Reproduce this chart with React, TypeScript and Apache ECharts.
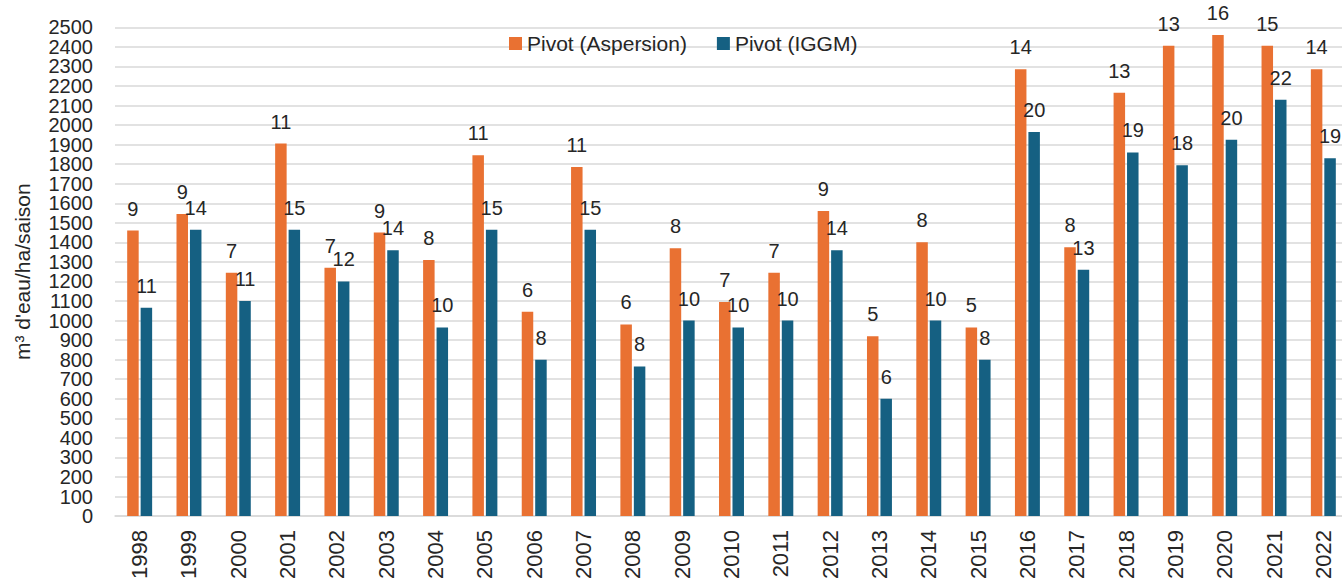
import React, { useEffect, useRef } from "react";
import * as echarts from "echarts";

const years = ["1998","1999","2000","2001","2002","2003","2004","2005","2006","2007","2008","2009","2010","2011","2012","2013","2014","2015","2016","2017","2018","2019","2020","2021","2022"];
const aspersion = [1460,1545,1245,1905,1270,1450,1310,1845,1045,1785,980,1370,1095,1245,1560,920,1400,965,2285,1375,2165,2405,2460,2405,2285];
const iggm = [1065,1465,1100,1465,1200,1360,965,1465,800,1465,765,1000,965,1000,1360,600,1000,800,1965,1260,1860,1795,1925,2130,1830];
const aspersionCounts = [9,9,7,11,7,9,8,11,6,11,6,8,7,7,9,5,8,5,14,8,13,13,16,15,14];
const iggmCounts = [11,14,11,15,12,14,10,15,8,15,8,10,10,10,14,6,10,8,20,13,19,18,20,22,19];
const seriesNames = ["Pivot (Aspersion)", "Pivot (IGGM)"];
const yAxisTitle = "m³ d'eau/ha/saison";
const Y_MIN = 0;
const Y_MAX = 2500;
const Y_STEP = 100;

const FONT = "'Liberation Sans', Arial, sans-serif";
const TEXT = "#262626";

export default function App() {
  const ref = useRef<HTMLDivElement>(null);
  useEffect(() => {
    if (!ref.current) return;
    const chart = echarts.init(ref.current, undefined, { renderer: "svg" });
    const labelCfg = (counts: number[]) => ({
      show: true,
      position: "top" as const,
      distance: 12,
      color: TEXT,
      fontSize: 20,
      fontFamily: FONT,
      formatter: (p: any) => String(counts[p.dataIndex]),
    });
    const yLabel = (even: boolean) => ({
      fontSize: 20,
      color: TEXT,
      margin: 22,
      fontFamily: FONT,
      showMinLabel: true,
      showMaxLabel: true,
      formatter: (v: number) => {
        const isEven = Math.round(v / Y_STEP) % 2 === 0;
        return isEven === even ? String(v) : "";
      },
    });
    chart.setOption({
      animation: false,
      textStyle: { fontFamily: FONT },
      legend: {
        left: 504,
        top: 28,
        itemWidth: 13,
        itemHeight: 13,
        itemGap: 30,
        icon: "rect",
        textStyle: { fontSize: 21, color: TEXT, fontFamily: FONT },
        data: seriesNames,
      },
      grid: { left: 115, top: 27.3, bottom: 63.3, right: 12, containLabel: false },
      xAxis: {
        type: "category",
        data: years,
        axisLine: { lineStyle: { color: "#d9d9d9", width: 1.5 } },
        axisTick: { show: false },
        axisLabel: {
          rotate: 90,
          interval: 0,
          margin: 14,
          fontSize: 22,
          color: TEXT,
          fontFamily: FONT,
        },
      },
      yAxis: [
        {
          type: "value",
          min: Y_MIN,
          max: Y_MAX,
          interval: Y_STEP,
          position: "left",
          name: yAxisTitle,
          nameLocation: "middle",
          nameGap: 82,
          nameTextStyle: { fontSize: 21, color: TEXT, fontFamily: FONT },
          axisLine: { show: false },
          axisTick: { show: false },
          axisLabel: yLabel(true),
          splitLine: { lineStyle: { color: "#d9d9d9", width: 1.5 } },
        },
        {
          type: "value",
          min: Y_MIN,
          max: Y_MAX,
          interval: Y_STEP,
          position: "left",
          offset: 0,
          axisLine: { show: false },
          axisTick: { show: false },
          axisLabel: yLabel(false),
          splitLine: { show: false },
        },
      ],
      series: [
        {
          name: seriesNames[0],
          type: "bar",
          data: aspersion,
          barWidth: 11.5,
          barGap: "17%",
          itemStyle: { color: "#E97132" },
          label: labelCfg(aspersionCounts),
        },
        {
          name: seriesNames[1],
          type: "bar",
          data: iggm,
          barWidth: 11.5,
          barGap: "17%",
          itemStyle: { color: "#156082" },
          label: labelCfg(iggmCounts),
        },
      ],
    });
    return () => chart.dispose();
  }, []);
  return (
    <div style={{ position: "fixed", left: 0, top: 0, width: 1342, height: 582, overflow: "hidden", background: "#fff" }}>
      <div ref={ref} style={{ width: 1360, height: 582 }} />
    </div>
  );
}
